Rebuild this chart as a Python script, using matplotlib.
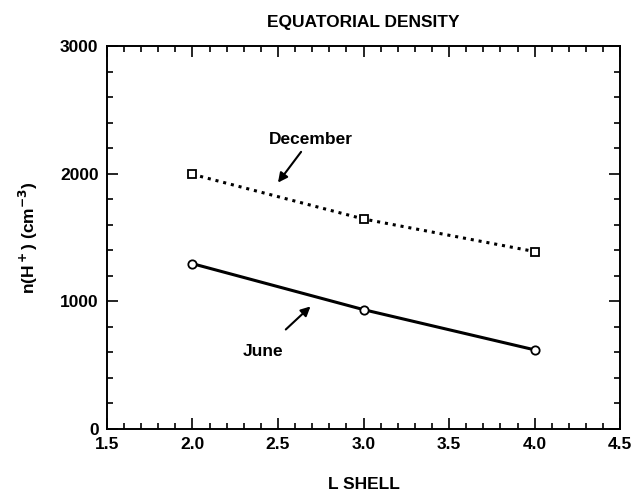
import matplotlib
matplotlib.use("Agg")
import matplotlib.pyplot as plt
from matplotlib.ticker import MultipleLocator

plt.rcParams['font.family'] = ['Liberation Sans', 'DejaVu Sans']
plt.rcParams['font.weight'] = 'bold'

l_shell = [2.0, 3.0, 4.0]
december = [1995, 1645, 1390]
june = [1295, 935, 620]

fig = plt.figure(figsize=(6.4, 5.0), dpi=100)
ax = fig.add_axes([0.167, 0.142, 0.802, 0.766])

ax.plot(l_shell, december, color='black', linestyle=(0, (1, 1.6)), linewidth=2.2,
        marker='s', markersize=6, markerfacecolor='white', markeredgewidth=1.3)
ax.plot(l_shell, june, color='black', linestyle='-', linewidth=2.2,
        marker='o', markersize=6, markerfacecolor='white', markeredgewidth=1.3)

ax.set_xlim(1.5, 4.5)
ax.set_ylim(0, 3000)
ax.xaxis.set_major_locator(MultipleLocator(0.5))
ax.xaxis.set_minor_locator(MultipleLocator(0.1))
ax.yaxis.set_major_locator(MultipleLocator(1000))
ax.yaxis.set_minor_locator(MultipleLocator(200))
ax.set_xticks([1.5, 2.0, 2.5, 3.0, 3.5, 4.0, 4.5])
ax.set_xticklabels(['1.5', '2.0', '2.5', '3.0', '3.5', '4.0', '4.5'])
ax.tick_params(which='both', direction='in', top=True, right=True, labelsize=12.5, width=1.2)
ax.tick_params(which='major', length=8, pad=6)
ax.tick_params(which='minor', length=4)
for s in ax.spines.values():
    s.set_linewidth(1.4)

ax.set_title('EQUATORIAL DENSITY', fontsize=12.5, fontweight='bold', pad=14)
ax.set_xlabel('L SHELL', fontsize=12.5, fontweight='bold', labelpad=18)
ax.set_ylabel(r'n(H$^+$) (cm$^{-3}$)', fontsize=12.5, fontweight='bold', labelpad=14)

ax.annotate('December', xy=(2.50, 1930), xytext=(2.69, 2210), ha='center', va='bottom',
            fontsize=12.5, fontweight='bold',
            arrowprops=dict(arrowstyle='-|>', color='black', lw=1.5, shrinkA=2, shrinkB=0,
                            mutation_scale=14))
ax.annotate('June', xy=(2.69, 960), xytext=(2.41, 610), ha='center', va='center',
            fontsize=12.5, fontweight='bold',
            arrowprops=dict(arrowstyle='-|>', color='black', lw=1.5, shrinkA=12, shrinkB=0,
                            mutation_scale=14))

fig.savefig('out.png', dpi=100)
